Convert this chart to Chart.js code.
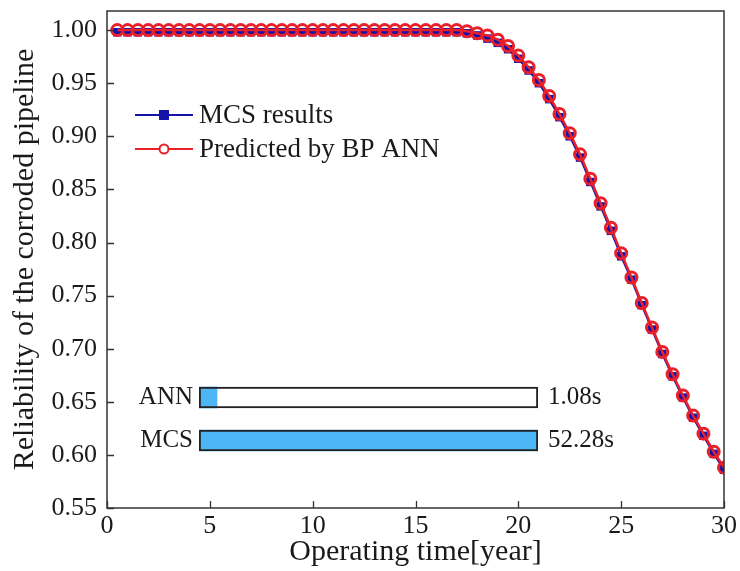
<!DOCTYPE html>
<html>
<head>
<meta charset="utf-8">
<script src="https://cdn.jsdelivr.net/npm/chart.js@4/dist/chart.umd.min.js"></script>
<style>
  html, body { margin: 0; padding: 0; background: #fff; }
  #wrap { position: relative; width: 740px; height: 571px; }
  #main { position: absolute; left: 0; top: 0; }
  #inset { position: absolute; left: 130px; top: 376px; }
</style>
</head>
<body>
<div id="wrap">
  <canvas id="main" width="740" height="571"></canvas>
  <canvas id="inset" width="500" height="86"></canvas>
</div>
<script>
// ---- data ----
const years = [0.5,1,1.5,2,2.5,3,3.5,4,4.5,5,5.5,6,6.5,7,7.5,8,8.5,9,9.5,10,
  10.5,11,11.5,12,12.5,13,13.5,14,14.5,15,15.5,16,16.5,17,17.5,18,18.5,19,19.5,20,
  20.5,21,21.5,22,22.5,23,23.5,24,24.5,25,25.5,26,26.5,27,27.5,28,28.5,29,29.5,30];
const annPredicted = [1.000,1.000,1.000,1.000,1.000,1.000,1.000,1.000,1.000,1.000,
  1.000,1.000,1.000,1.000,1.000,1.000,1.000,1.000,1.000,1.000,
  1.000,1.000,1.000,1.000,1.000,1.000,1.000,1.000,1.000,1.000,
  1.000,1.000,1.000,1.000,0.999,0.997,0.995,0.991,0.985,0.976,
  0.965,0.953,0.938,0.921,0.903,0.883,0.860,0.837,0.814,0.790,
  0.767,0.743,0.720,0.697,0.676,0.656,0.637,0.620,0.603,0.588];
const mcsResults = [0.998,0.998,0.998,0.998,0.998,0.998,0.998,0.998,0.998,0.998,
  0.998,0.998,0.998,0.998,0.998,0.998,0.998,0.998,0.998,0.998,
  0.998,0.998,0.998,0.998,0.998,0.998,0.998,0.998,0.998,0.998,
  0.998,0.998,0.998,0.998,0.997,0.995,0.992,0.988,0.982,0.973,
  0.962,0.950,0.935,0.918,0.900,0.880,0.857,0.834,0.811,0.787,
  0.765,0.741,0.718,0.695,0.674,0.654,0.635,0.618,0.601,0.586];
const yTicks = [0.55,0.60,0.65,0.70,0.75,0.80,0.85,0.90,0.95,1.00];
const xTicks = [0,5,10,15,20,25,30];
const seriesNames = ['MCS results','Predicted by BP ANN'];

const methods = ['ANN','MCS'];
const compTime = [1.08, 52.28];
const compTimeLabels = ['1.08s','52.28s'];

// ---- styles ----
const SERIF = '"Liberation Serif", "Times New Roman", serif';
const TXT = '#1a1a1a';
const BLUE = '#1414a8';
const RED = '#e8202a';

const toPts = (arr) => years.map((x, i) => ({x: x, y: arr[i]}));
const noPad = (s) => { s.paddingTop = 0; s.paddingBottom = 0; s.paddingLeft = 0; s.paddingRight = 0; };

const framePlugin = {
  id: 'frame',
  afterDraw(chart) {
    const {ctx, chartArea: a, scales} = chart;
    ctx.save();
    ctx.strokeStyle = '#333';
    ctx.lineWidth = 1.5;
    ctx.strokeRect(a.left, a.top, a.right - a.left, a.bottom - a.top);
    ctx.lineWidth = 1.3;
    ctx.beginPath();
    scales.y.ticks.forEach(t => {
      const py = Math.round(scales.y.getPixelForValue(t.value)) + 0.5;
      ctx.moveTo(a.left, py); ctx.lineTo(a.left + 7, py);
    });
    scales.x.ticks.forEach(t => {
      const px = Math.round(scales.x.getPixelForValue(t.value)) + 0.5;
      ctx.moveTo(px, a.bottom); ctx.lineTo(px, a.bottom - 7);
    });
    ctx.stroke();

    // legend (line + marker samples)
    const entries = [
      {name: seriesNames[0], color: BLUE, style: 'rect', y: 115},
      {name: seriesNames[1], color: RED, style: 'circle', y: 149}
    ];
    entries.forEach(e => {
      ctx.strokeStyle = e.color;
      ctx.lineWidth = 2;
      ctx.beginPath();
      ctx.moveTo(135, e.y); ctx.lineTo(193, e.y);
      ctx.stroke();
      if (e.style === 'rect') {
        ctx.fillStyle = e.color;
        ctx.fillRect(159, e.y - 5, 10, 10);
      } else {
        ctx.fillStyle = '#fff';
        ctx.beginPath();
        ctx.arc(164, e.y, 4.5, 0, Math.PI * 2);
        ctx.fill();
        ctx.lineWidth = 2;
        ctx.stroke();
      }
      ctx.fillStyle = TXT;
      ctx.font = '27px ' + SERIF;
      ctx.textBaseline = 'middle';
      ctx.textAlign = 'left';
      ctx.fillText(e.name, 199, e.y + 1);
    });
    ctx.restore();
  }
};

new Chart(document.getElementById('main'), {
  type: 'line',
  data: {
    datasets: [
      {
        label: seriesNames[1],
        data: toPts(annPredicted),
        borderColor: RED,
        borderWidth: 2.5,
        pointStyle: 'circle',
        pointRadius: 5.5,
        pointBorderWidth: 3,
        pointBorderColor: RED,
        pointBackgroundColor: 'rgba(0,0,0,0)',
        order: 1
      },
      {
        label: seriesNames[0],
        data: toPts(mcsResults),
        borderColor: BLUE,
        borderWidth: 2,
        pointStyle: 'rect',
        pointRadius: 6,
        pointBorderWidth: 0,
        pointBackgroundColor: BLUE,
        order: 2
      }
    ]
  },
  options: {
    responsive: false,
    animation: false,
    devicePixelRatio: 1,
    layout: { padding: { top: 11, right: 16, left: 7, bottom: 0 } },
    plugins: { legend: { display: false }, tooltip: { enabled: false } },
    scales: {
      x: {
        type: 'linear', min: 0, max: 30,
        grid: { display: false, drawTicks: false }, border: { display: false },
        afterBuildTicks: (s) => { s.ticks = xTicks.map(v => ({value: v})); },
        ticks: { color: TXT, font: { family: SERIF, size: 26 }, padding: 3, maxRotation: 0 },
        title: { display: true, text: 'Operating time[year]', color: TXT,
                 font: { family: SERIF, size: 30 }, padding: { top: 0, bottom: 1 } },
        afterFit: (s) => { s.height = 63; noPad(s); }
      },
      y: {
        type: 'linear', min: 0.55, max: 1.018,
        grid: { display: false, drawTicks: false }, border: { display: false },
        afterBuildTicks: (s) => { s.ticks = yTicks.map(v => ({value: v})); },
        ticks: { color: TXT, font: { family: SERIF, size: 26 }, padding: 10,
                 callback: (v) => Number(v).toFixed(2) },
        title: { display: true, text: 'Reliability of the corroded pipeline', color: TXT,
                 font: { family: SERIF, size: 30 }, padding: { top: 0, bottom: 0 } },
        afterFit: (s) => { s.width = 100; noPad(s); }
      }
    }
  },
  plugins: [framePlugin]
});

// ---- inset: computation time comparison ----
const fullLength = compTime.map(() => compTime[compTime.length - 1]);
new Chart(document.getElementById('inset'), {
  type: 'bar',
  data: {
    labels: methods,
    datasets: [
      {
        data: compTime,
        backgroundColor: '#4cb6f6',
        borderWidth: 0,
        minBarLength: 18,
        barThickness: 21,
        grouped: false,
        order: 2
      },
      {
        data: fullLength,
        backgroundColor: 'rgba(0,0,0,0)',
        borderColor: '#222',
        borderWidth: 1.5,
        borderSkipped: false,
        barThickness: 21,
        grouped: false,
        order: 1
      }
    ]
  },
  options: {
    indexAxis: 'y',
    responsive: false,
    animation: false,
    devicePixelRatio: 1,
    layout: { padding: 0 },
    plugins: { legend: { display: false }, tooltip: { enabled: false } },
    scales: {
      x: { display: false, min: 0, max: compTime[compTime.length - 1],
           afterFit: (s) => { s.height = 0; noPad(s); } },
      y: {
        grid: { display: false, drawTicks: false }, border: { display: false },
        ticks: { color: TXT, font: { family: SERIF, size: 25 }, padding: 6, autoSkip: false },
        afterFit: (s) => { s.width = 69; noPad(s); }
      },
      y2: {
        type: 'category', labels: compTimeLabels, position: 'right', offset: true,
        grid: { display: false, drawTicks: false }, border: { display: false },
        ticks: { color: TXT, font: { family: SERIF, size: 25 }, padding: 10, autoSkip: false },
        afterFit: (s) => { s.width = 92; noPad(s); }
      }
    }
  }
});
</script>
</body>
</html>
